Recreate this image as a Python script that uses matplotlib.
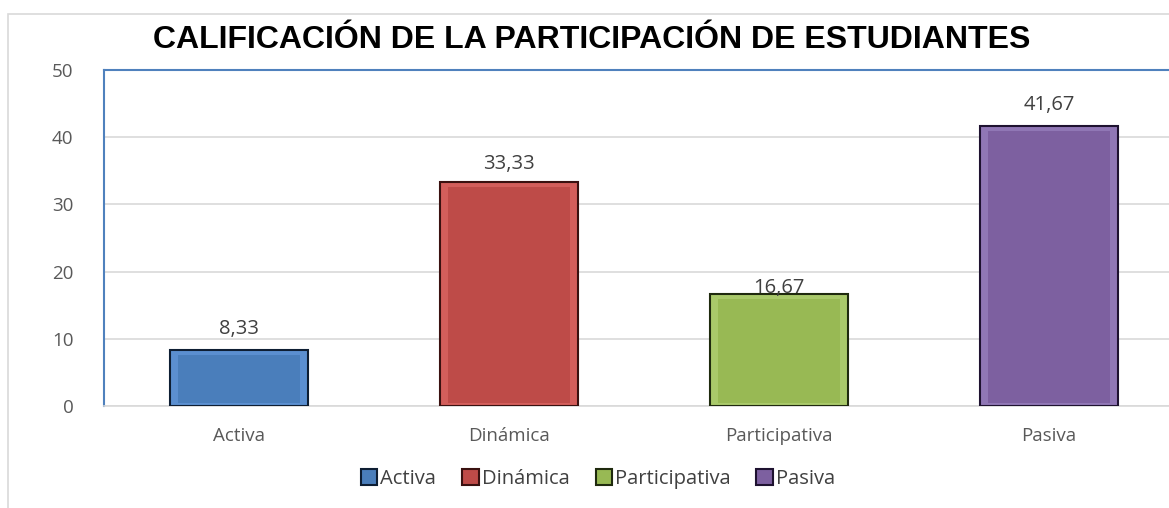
import numpy as np
import matplotlib
import matplotlib.pyplot as plt
from matplotlib.patches import Rectangle

matplotlib.use("Agg")

categories = ["Activa", "Dinámica", "Participativa", "Pasiva"]
values = [8.33, 33.33, 16.67, 41.67]
value_labels = ["8,33", "33,33", "16,67", "41,67"]
colors = ["#4A7EBB", "#BE4B48", "#98B954", "#7D60A0"]
light = ["#5B8FD0", "#D35E5B", "#A9C96A", "#9077B5"]
dark_edge = ["#0E1E33", "#3A1110", "#1F2A0E", "#1E1230"]

plt.rcParams["font.family"] = ["Open Sans", "DejaVu Sans"]

fig = plt.figure(figsize=(11.69, 5.08), dpi=100)
fig.patches.append(Rectangle((8 / 1169, -0.1), 1.2, (508 - 14) / 508 + 0.1,
                             transform=fig.transFigure, fill=False,
                             edgecolor="#D9D9D9", linewidth=1.2))

ax = fig.add_axes([104 / 1169, 1 - 406 / 508, 1080 / 1169, 336 / 508])
x = np.arange(len(categories))

# outer bar with dark frame, inner lighter bar for the bevel look
ax.bar(x, values, width=0.51, color=light, edgecolor=dark_edge,
       linewidth=1.5, zorder=3)
inner = [v - 1.2 for v in values]
ax.bar(x, inner, bottom=0.5, width=0.45, color=colors, linewidth=0, zorder=4)

offsets = [8, 6, -3, 8]
for xi, v, lab, off in zip(x, values, value_labels, offsets):
    ax.annotate(lab, (xi, v), xytext=(0, off), textcoords="offset points",
                ha="center", va="bottom", fontsize=14.5, color="#404040",
                zorder=5)

ax.set_xlim(-0.5, 3.5)
ax.set_ylim(0, 50)
ax.set_yticks(range(0, 51, 10))
ax.set_xticks(x)
ax.set_xticklabels(categories)
ax.tick_params(axis="both", length=0, labelsize=13.5, colors="#595959")
ax.tick_params(axis="x", pad=15)
ax.tick_params(axis="y", pad=22)
ax.grid(axis="y", color="#D9D9D9", linewidth=1.2, zorder=0)

for side in ["left", "top"]:
    ax.spines[side].set_color("#4F81BD")
    ax.spines[side].set_linewidth(1.5)
ax.spines["right"].set_visible(False)
ax.spines["bottom"].set_color("#D9D9D9")
ax.spines["bottom"].set_linewidth(1.2)

fig.text(592 / 1169, 1 - 40 / 508, "CALIFICACIÓN DE LA PARTICIPACIÓN DE ESTUDIANTES",
         ha="center", va="center", fontsize=23, fontweight="bold",
         family=["Liberation Sans", "DejaVu Sans"])

handles = [Rectangle((0, 0), 1, 1, facecolor=c, edgecolor=e, linewidth=1.5)
           for c, e in zip(colors, dark_edge)]
fig.legend(handles, categories, loc="center", bbox_to_anchor=(598 / 1169, 1 - 479 / 508),
           ncol=4, frameon=False, fontsize=14.5, handlelength=0.8, handleheight=0.8,
           handletextpad=0.15, columnspacing=1.3, labelcolor="#404040")

plt.savefig("out.png", dpi=100)
plt.close()
